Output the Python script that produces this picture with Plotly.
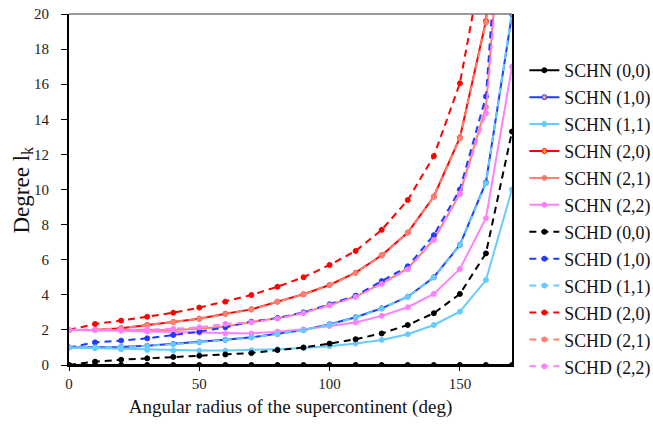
import plotly.graph_objects as go

# Angular radius (deg)
x_deg = [0, 10, 20, 30, 40, 50, 60, 70, 80, 90, 100, 110, 120, 130, 140, 150, 160, 170]

schn_00 = [0] * 18
schn_10 = [1.0, 1.0, 1.02, 1.1, 1.2, 1.3, 1.44, 1.58, 1.77, 1.99, 2.32, 2.72, 3.23, 3.89, 5.0, 6.84, 10.4, 20.0]
schn_11 = [1.0, 0.96, 0.9, 0.86, 0.83, 0.82, 0.82, 0.84, 0.9, 0.97, 1.07, 1.22, 1.43, 1.75, 2.28, 3.04, 4.84, 10.0]
schn_20 = [2.0, 2.0, 2.09, 2.28, 2.45, 2.64, 2.92, 3.17, 3.61, 4.03, 4.56, 5.26, 6.25, 7.55, 9.6, 12.95, 19.6, 38.0]
schn_21 = [2.0, 2.0, 1.99, 1.99, 2.0, 2.06, 2.2, 2.45, 2.66, 2.97, 3.42, 3.9, 4.65, 5.5, 7.15, 9.75, 14.7, 33.0]
schn_22 = [2.0, 1.99, 1.95, 1.91, 1.88, 1.84, 1.8, 1.8, 1.9, 2.03, 2.22, 2.42, 2.8, 3.29, 4.05, 5.47, 8.36, 17.0]
schd_00 = [0, 0.19, 0.3, 0.38, 0.46, 0.53, 0.6, 0.68, 0.85, 1.0, 1.22, 1.47, 1.8, 2.28, 2.95, 4.05, 6.36, 13.3]
schd_10 = [1.0, 1.29, 1.39, 1.52, 1.71, 1.9, 2.15, 2.47, 2.68, 3.0, 3.46, 3.95, 4.78, 5.62, 7.4, 10.0, 15.3, 36.0]
schd_11 = [1.0, 1.0, 1.02, 1.09, 1.18, 1.29, 1.43, 1.57, 1.76, 1.98, 2.3, 2.71, 3.22, 3.88, 4.98, 6.82, 10.35, 20.1]
schd_20 = [2.0, 2.34, 2.53, 2.75, 2.98, 3.27, 3.61, 3.99, 4.46, 5.0, 5.7, 6.5, 7.7, 9.4, 11.9, 16.05, 24.0, 45.0]
schd_21 = [2.0, 2.01, 2.1, 2.27, 2.44, 2.63, 2.9, 3.16, 3.6, 4.02, 4.55, 5.25, 6.23, 7.53, 9.58, 12.9, 19.5, 37.5]
schd_22 = [2.0, 2.0, 2.0, 2.02, 2.06, 2.15, 2.34, 2.43, 2.64, 2.96, 3.4, 3.88, 4.62, 5.45, 7.12, 9.77, 14.35, 32.0]

BLACK = "#000000"
BLUE = "#1f3cff"
LBLUE = "#66ccff"
RED = "#ff0000"
SALMON = "#ff8070"
PINK = "#ff80ff"

series = [
    ("SCHN (0,0)", schn_00, BLACK, "solid", BLACK, BLACK),
    ("SCHN (1,0)", schn_10, BLUE, "solid", "#f4a070", BLUE),
    ("SCHN (1,1)", schn_11, LBLUE, "solid", LBLUE, LBLUE),
    ("SCHN (2,0)", schn_20, RED, "solid", "#ffb000", RED),
    ("SCHN (2,1)", schn_21, SALMON, "solid", SALMON, SALMON),
    ("SCHN (2,2)", schn_22, PINK, "solid", PINK, PINK),
    ("SCHD (0,0)", schd_00, BLACK, "dash", BLACK, BLACK),
    ("SCHD (1,0)", schd_10, BLUE, "dash", BLUE, BLUE),
    ("SCHD (1,1)", schd_11, LBLUE, "dash", LBLUE, LBLUE),
    ("SCHD (2,0)", schd_20, RED, "dash", RED, RED),
    ("SCHD (2,1)", schd_21, SALMON, "dash", SALMON, SALMON),
    ("SCHD (2,2)", schd_22, PINK, "dash", PINK, PINK),
]

fig = go.Figure()
for name, ys, col, dash, mfill, medge in series:
    fig.add_trace(go.Scatter(
        x=x_deg, y=ys, name='<span style="font-size:17.8px">' + name + "</span>",
        mode="lines+markers",
        line=dict(color=col, width=2, dash="7px,5px" if dash == "dash" else "solid"),
        marker=dict(size=5, color=mfill, line=dict(color=medge, width=1)),
    ))

FONT = "Liberation Serif"
fig.update_layout(
    width=653, height=428,
    paper_bgcolor="white", plot_bgcolor="white",
    margin=dict(l=69, r=141, t=14, b=63, autoexpand=False),
    font=dict(family=FONT, size=15, color="#222222"),
    showlegend=True,
    legend=dict(
        xref="container", yref="container",
        x=0.803, y=0.879, xanchor="left", yanchor="top",
        font=dict(family=FONT, size=18.4, color="#111111"),
        bgcolor="rgba(0,0,0,0)", borderwidth=0,
        tracegroupgap=0, itemwidth=30, maxheight=420,
    ),
    xaxis=dict(
        range=[0, 170], tickvals=[0, 50, 100, 150], ticktext=["0", "50", "100", "150"],
        showgrid=False, zeroline=False,
        showline=True, linecolor="#000000", linewidth=2,
        ticks="outside", ticklen=4, tickcolor="#000000", tickwidth=1,
        tickfont=dict(family=FONT, size=15), ticklabeloverflow="allow",
        title=dict(text="Angular radius of the supercontinent (deg)",
                   font=dict(family=FONT, size=19, color="#111111"), standoff=9),
    ),
    yaxis=dict(
        range=[0, 20], dtick=2,
        showgrid=False, zeroline=False,
        showline=True, linecolor="#000000", linewidth=2, mirror=True,
        ticks="outside", ticklen=6, tickcolor="#000000", tickwidth=1,
        tickfont=dict(family=FONT, size=15), ticklabeloverflow="allow",
        ticklabelstandoff=9,
    ),
    annotations=[dict(
        text="Degree l<sub>k</sub>", textangle=-90, showarrow=False,
        xref="paper", yref="paper", x=(22 - 69) / 443, y=0.5,
        xanchor="center", yanchor="middle",
        font=dict(family=FONT, size=23, color="#111111"),
    )],
    shapes=[dict(type="line", xref="paper", yref="paper", x0=0, x1=1, y0=1, y1=1,
                 line=dict(color="#777777", width=1.5))],
)

fig.write_html(
    "out.html",
    config={"displayModeBar": False},
    post_script="document.body.style.margin='0';document.body.style.overflow='hidden';",
)
